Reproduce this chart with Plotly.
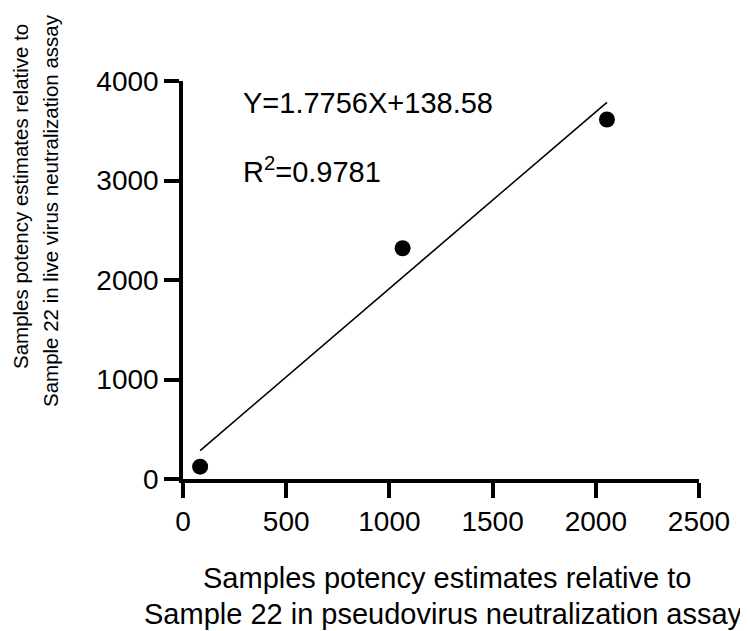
import plotly.graph_objects as go

# Data
pseudo_x = [83, 1064, 2054]
live_y = [124, 2319, 3613]
slope = 1.7756
intercept = 138.58
r_squared = 0.9781
x_ticks = [0, 500, 1000, 1500, 2000, 2500]
y_ticks = [0, 1000, 2000, 3000, 4000]

fit_x = [min(pseudo_x), max(pseudo_x)]
fit_y = [slope * v + intercept for v in fit_x]

FONT = "Arial, 'Liberation Sans', sans-serif"

fig = go.Figure()
fig.add_trace(go.Scatter(x=fit_x, y=fit_y, mode="lines",
                         line=dict(color="black", width=1.6), showlegend=False))
fig.add_trace(go.Scatter(x=pseudo_x, y=live_y, mode="markers",
                         marker=dict(color="black", size=16), showlegend=False))

# page body has an 8px margin; work in page pixels and subtract it
OFF = 8
W, H = 748 - OFF, 631 - OFF
L, R, T, B = 183 - OFF, 49, 81 - OFF, 152
pw, ph = W - L - R, H - T - B

def px(xp):
    return (xp - OFF - L) / pw

def py(yp):
    return (H - B - (yp - OFF)) / ph

axis_common = dict(showline=True, linecolor="black", linewidth=3.5, ticks="outside",
                   ticklen=15, tickwidth=3.5, tickcolor="black", showgrid=False,
                   zeroline=False, tickfont=dict(family=FONT, size=28, color="black"))

fig.update_xaxes(range=[0, 2500], tickvals=x_ticks, **axis_common)
fig.update_yaxes(range=[0, 4000], tickvals=y_ticks, **axis_common)

annotations = [
    dict(text=f"Y={slope}X+{intercept}", x=px(241), y=py(103), xanchor="left",
         yanchor="middle", font=dict(size=29)),
    dict(text=f"R<sup>2</sup>={r_squared}", x=px(241), y=py(170), xanchor="left",
         yanchor="middle", font=dict(size=29)),
    dict(text="Samples potency estimates relative to", x=px(447), y=py(578),
         xanchor="center", yanchor="middle", font=dict(size=29)),
    dict(text="Sample 22 in pseudovirus neutralization assay", x=px(443), y=py(614),
         xanchor="center", yanchor="middle", font=dict(size=29)),
    dict(text="Samples potency estimates relative to", x=px(20), y=py(197),
         xanchor="center", yanchor="middle", textangle=-90, font=dict(size=20.5)),
    dict(text="Sample 22 in live virus neutralization assay", x=px(50), y=py(211),
         xanchor="center", yanchor="middle", textangle=-90, font=dict(size=20.5)),
]
for a in annotations:
    a.update(xref="paper", yref="paper", showarrow=False)
    a["font"].update(family=FONT, color="black")

fig.update_layout(
    width=W, height=H,
    margin=dict(l=L, r=R, t=T, b=B, autoexpand=False),
    paper_bgcolor="white", plot_bgcolor="white",
    annotations=annotations,
    font=dict(family=FONT, color="black"),
)

fig.write_html("out.html")
